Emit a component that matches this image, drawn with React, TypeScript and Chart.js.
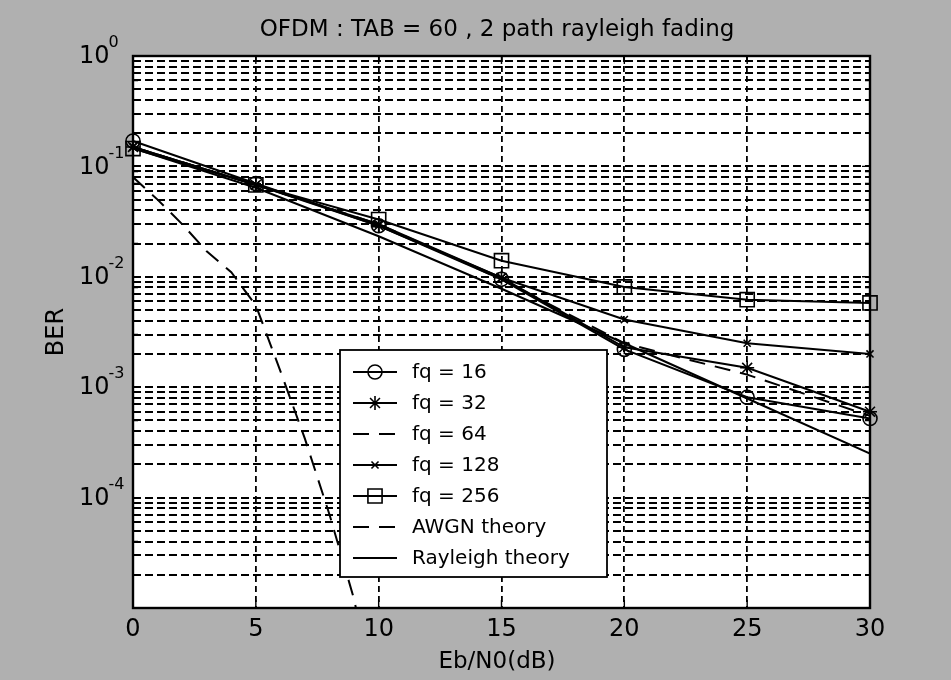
import React, { useEffect, useRef } from 'react';
import { Chart, registerables } from 'chart.js';

Chart.register(...registerables);

// ---- data ----
const snrDb = [0, 5, 10, 15, 20, 25, 30];
const berFq16 = [0.17, 0.07, 0.029, 0.0095, 0.0022, 0.00081, 0.00052];
const berFq32 = [0.15, 0.068, 0.029, 0.0098, 0.0023, 0.0015, 0.0006];
const berFq64 = [0.15, 0.068, 0.03, 0.0095, 0.0025, 0.0013, 0.00055];
const berFq128 = [0.15, 0.068, 0.03, 0.0098, 0.0041, 0.0025, 0.002];
const berFq256 = [0.145, 0.068, 0.033, 0.014, 0.0081, 0.0062, 0.0058];
const rayleighSnr = [0, 5, 10, 15, 20, 25, 30];
const berRayleigh = [0.146, 0.064, 0.0233, 0.0078, 0.0025, 0.00079, 0.00025];
const awgnSnr = [0, 1, 2, 3, 4, 5, 6, 7, 8, 9, 10];
const berAwgn = [0.08, 0.05, 0.03, 0.017, 0.011, 0.0055, 0.0014, 0.00034, 0.00007, 0.000012, 0.000001];

const seriesLabels = ['fq = 16', 'fq = 32', 'fq = 64', 'fq = 128', 'fq = 256', 'AWGN theory', 'Rayleigh theory'];

const xTickValues = [0, 5, 10, 15, 20, 25, 30];
const xTickLabels = ['0', '5', '10', '15', '20', '25', '30'];
const yLabelExps = [0, -1, -2, -3, -4];
const yDecadeExps = [-5, -4, -3, -2, -1];
const yMinorMultipliers = [1, 2, 3, 4, 5, 6, 7, 8, 9];

const titleText = 'OFDM : TAB = 60 , 2 path rayleigh fading';
const xTitle = 'Eb/N0(dB)';
const yTitle = 'BER';

const yGridValues: number[] = [];
yDecadeExps.forEach((e) => {
  yMinorMultipliers.forEach((m) => yGridValues.push(Number((m * Math.pow(10, e)).toPrecision(3))));
});
yGridValues.push(1);

const FONT = '"DejaVu Sans", "Liberation Sans", sans-serif';

function toPoints(xs: number[], ys: number[]) {
  return xs.map((x, i) => ({ x, y: ys[i] }));
}

function drawMarker(ctx: CanvasRenderingContext2D, style: string, x: number, y: number, r: number) {
  ctx.beginPath();
  if (style === 'circle') {
    ctx.arc(x, y, r, 0, Math.PI * 2);
  } else if (style === 'rect') {
    const s = r * Math.SQRT1_2;
    ctx.rect(x - s, y - s, 2 * s, 2 * s);
  } else if (style === 'star' || style === 'crossRot') {
    const d = r * Math.SQRT1_2;
    ctx.moveTo(x - d, y - d);
    ctx.lineTo(x + d, y + d);
    ctx.moveTo(x - d, y + d);
    ctx.lineTo(x + d, y - d);
    if (style === 'star') {
      ctx.moveTo(x, y - r);
      ctx.lineTo(x, y + r);
      ctx.moveTo(x - r, y);
      ctx.lineTo(x + r, y);
    }
  }
  ctx.stroke();
}

const backgroundPlugin = {
  id: 'scanBackground',
  beforeDraw(chart: any) {
    const { ctx, chartArea } = chart;
    ctx.save();
    ctx.fillStyle = '#b0b0b0';
    ctx.fillRect(0, 0, chart.width, chart.height);
    ctx.fillStyle = '#ffffff';
    ctx.fillRect(chartArea.left, chartArea.top, chartArea.right - chartArea.left, chartArea.bottom - chartArea.top);
    ctx.restore();
  },
};

const decorPlugin = {
  id: 'matlabDecor',
  afterDraw(chart: any) {
    const { ctx, chartArea } = chart;
    const xs = chart.scales.x;
    const ys = chart.scales.y;
    const { left, right, top, bottom } = chartArea;
    ctx.save();
    ctx.setLineDash([]);
    ctx.strokeStyle = '#000';
    // inner ticks
    ctx.lineWidth = 1.4;
    ys.ticks.forEach((t: any) => {
      const py = ys.getPixelForValue(t.value);
      const len = yLabelExps.some((e) => Math.abs(Math.log10(t.value) - e) < 1e-6) ? 8 : 5;
      ctx.beginPath();
      ctx.moveTo(left, py);
      ctx.lineTo(left + len, py);
      ctx.moveTo(right, py);
      ctx.lineTo(right - len, py);
      ctx.stroke();
    });
    xTickValues.forEach((v) => {
      const px = xs.getPixelForValue(v);
      ctx.beginPath();
      ctx.moveTo(px, bottom);
      ctx.lineTo(px, bottom - 8);
      ctx.moveTo(px, top);
      ctx.lineTo(px, top + 8);
      ctx.stroke();
    });
    // frame
    ctx.lineWidth = 2.4;
    ctx.strokeRect(left, top, right - left, bottom - top);

    ctx.fillStyle = '#000';
    // title
    ctx.font = '23px ' + FONT;
    ctx.textAlign = 'center';
    ctx.textBaseline = 'alphabetic';
    ctx.fillText(titleText, 497, 36);
    // x tick labels
    ctx.font = '24px ' + FONT;
    ctx.textBaseline = 'middle';
    xTickValues.forEach((v, i) => {
      ctx.fillText(xTickLabels[i], xs.getPixelForValue(v), 630);
    });
    // x title
    ctx.font = '23px ' + FONT;
    ctx.fillText(xTitle, 497, 662);
    // y title
    ctx.save();
    ctx.translate(57, (top + bottom) / 2);
    ctx.rotate(-Math.PI / 2);
    ctx.font = '24px ' + FONT;
    ctx.fillText(yTitle, 0, 0);
    ctx.restore();
    // y tick labels 10^k
    ctx.textAlign = 'left';
    yLabelExps.forEach((e) => {
      const py = ys.getPixelForValue(Math.pow(10, e));
      ctx.font = '24px ' + FONT;
      ctx.fillText('10', 79, py + 1);
      const w = ctx.measureText('10').width;
      ctx.font = '16px ' + FONT;
      ctx.fillText(e === 0 ? '0' : '-' + Math.abs(e), 79 + w - 1, py - 13);
    });

    // legend
    const bx = 340, by = 350, bw = 267, bh = 227;
    ctx.fillStyle = '#fff';
    ctx.fillRect(bx, by, bw, bh);
    ctx.lineWidth = 1.8;
    ctx.strokeStyle = '#000';
    ctx.strokeRect(bx, by, bw, bh);
    chart.data.datasets.forEach((ds: any, i: number) => {
      const ry = 372 + i * 31;
      ctx.lineWidth = 1.8;
      ctx.setLineDash(ds.borderDash || []);
      ctx.beginPath();
      ctx.moveTo(353, ry);
      ctx.lineTo(397, ry);
      ctx.stroke();
      ctx.setLineDash([]);
      ctx.lineWidth = 1.6;
      if (ds.pointRadius > 0) drawMarker(ctx, ds.pointStyle, 375, ry, ds.pointRadius);
      ctx.fillStyle = '#000';
      ctx.font = '20px ' + FONT;
      ctx.textBaseline = 'middle';
      ctx.fillText(ds.label, 412, ry + 1);
    });
    ctx.restore();
  },
};

export default function App() {
  const canvasRef = useRef<HTMLCanvasElement | null>(null);

  useEffect(() => {
    document.body.style.margin = '0';
    const canvas = canvasRef.current;
    if (!canvas) return;
    const common = {
      borderColor: '#000',
      borderWidth: 2,
      pointBorderColor: '#000',
      pointBackgroundColor: 'rgba(0,0,0,0)',
      pointBorderWidth: 1.6,
      tension: 0,
      fill: false,
    };
    const chart = new Chart(canvas, {
      type: 'line',
      data: {
        datasets: [
          { ...common, label: seriesLabels[0], data: toPoints(snrDb, berFq16), pointStyle: 'circle', pointRadius: 7, clip: false },
          { ...common, label: seriesLabels[1], data: toPoints(snrDb, berFq32), pointStyle: 'star', pointRadius: 7, clip: false },
          { ...common, label: seriesLabels[2], data: toPoints(snrDb, berFq64), pointRadius: 0, borderDash: [16, 10] },
          { ...common, label: seriesLabels[3], data: toPoints(snrDb, berFq128), pointStyle: 'crossRot', pointRadius: 5, clip: false },
          { ...common, label: seriesLabels[4], data: toPoints(snrDb, berFq256), pointStyle: 'rect', pointRadius: 10, clip: false },
          { ...common, label: seriesLabels[5], data: toPoints(awgnSnr, berAwgn), pointRadius: 0, borderDash: [16, 10] },
          { ...common, label: seriesLabels[6], data: toPoints(rayleighSnr, berRayleigh), pointRadius: 0 },
        ] as any,
      },
      options: {
        animation: false,
        responsive: false,
        devicePixelRatio: 1,
        events: [],
        layout: { padding: { left: 133, right: 81, top: 56, bottom: 72 } },
        plugins: { legend: { display: false }, title: { display: false }, tooltip: { enabled: false } },
        scales: {
          x: {
            type: 'linear',
            min: 0,
            max: 30,
            afterBuildTicks: (scale: any) => {
              scale.ticks = xTickValues.map((v) => ({ value: v }));
            },
            ticks: { display: false },
            grid: { color: '#000', lineWidth: 1.8, drawTicks: false },
            border: { display: false, dash: [6, 4] },
          },
          y: {
            type: 'logarithmic',
            min: 1e-5,
            max: 1,
            afterBuildTicks: (scale: any) => {
              scale.ticks = yGridValues.map((v) => ({ value: v }));
            },
            ticks: { display: false },
            grid: { color: '#000', lineWidth: 2, drawTicks: false },
            border: { display: false, dash: [8, 4] },
          },
        },
      } as any,
      plugins: [backgroundPlugin, decorPlugin],
    });
    return () => chart.destroy();
  }, []);

  return (
    <div style={{ width: 951, height: 680, background: '#b0b0b0' }}>
      <canvas ref={canvasRef} width={951} height={680} style={{ display: 'block' }} />
    </div>
  );
}
